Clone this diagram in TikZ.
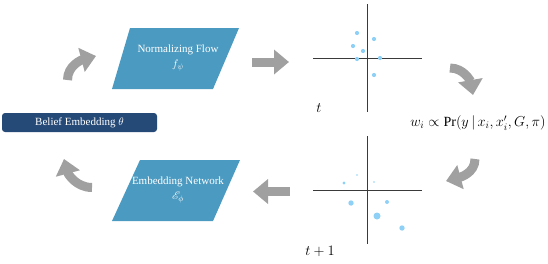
\documentclass[tikz,border=0pt]{standalone}
\usepackage{fontspec}
\setmainfont{Liberation Serif}
\usepackage{mathrsfs}
\usetikzlibrary{arrows.meta}
\definecolor{flowblue}{HTML}{4B9AC1}
\definecolor{beliefnavy}{HTML}{264A77}
\definecolor{arrowgray}{HTML}{A0A0A0}
\definecolor{pointblue}{HTML}{8FD0F7}
\definecolor{axisgray}{HTML}{3A3A3A}

\begin{document}
\begin{tikzpicture}[x=1pt,y=-1pt,
  blockarrow/.style={arrowgray, line width=9pt, -{Triangle[length=15pt,width=24pt]}},
  boxlabel/.style={text=white, align=center, font=\fontsize{11}{12}\selectfont},
  axisline/.style={axisgray, line width=0.7pt},
  sample/.style={pointblue}]
  \useasboundingbox (0,0) rectangle (548,263);
  % the two network blocks
  \fill[flowblue] (130,28) -- (239,28) -- (213,89) -- (112,89) -- cycle;
  \node[boxlabel] (flow) at (178,58) {Normalizing Flow\\[3pt]$f_\psi$};
  \fill[flowblue] (140,160) -- (240,160) -- (213,221) -- (112,221) -- cycle;
  \node[boxlabel] (embed) at (178,190) {Embedding Network\\[3pt]$\mathscr{E}_\phi$};
  \node[
    fill=beliefnavy,
    rounded corners=3pt,
    minimum width=155pt,
    minimum height=19pt,
    text=white,
    font=\fontsize{11}{12}\selectfont
  ] (belief) at (79.5,122.5) {Belief Embedding $\theta$};
  % sample plot at t
  \draw[axisline] (313,58) -- (422,58);
  \draw[axisline] (367,4) -- (367,112);
  \foreach \px/\py in {357/33, 374/39, 353/46, 363/51, 357/59, 380/58, 374/75}
    \fill[sample] (\px,\py) circle (2.1pt);
  \node[font=\fontsize{14}{16}\selectfont] (tnow) at (319,108) {$t$};
  % sample plot at t+1
  \draw[axisline] (313,190) -- (422,190);
  \draw[axisline] (367,136) -- (367,244);
  \foreach \px/\py/\r in {344/183/1.7, 357/175/0.8, 374/182/0.8, 351/203/2.7,
                          387/202/2, 377/216/3.5, 402/228/2.7}
    \fill[sample] (\px,\py) circle (\r pt);
  \node[font=\fontsize{14}{16}\selectfont] (tnext) at (320,251) {$t+1$};
  \node[font=\fontsize{14}{16}\selectfont] (weight) at (478,123)
    {$w_i \propto \mathrm{Pr}(y\,|\,x_i, x_i', G, \pi)$};
  % block arrows round the cycle
  \draw[blockarrow] (67.5,80) to[out=90,in=195] (96,56);
  \draw[blockarrow] (252,62) -- (289,62);
  \draw[blockarrow] (450,68) to[out=0,in=100] (473,95);
  \draw[blockarrow] (475,159) to[out=-90,in=15] (446,181);
  \draw[blockarrow] (290,191.5) -- (253,191.5);
  \draw[blockarrow] (92,187.5) to[out=180,in=-75] (64,159);
\end{tikzpicture}
\end{document}
